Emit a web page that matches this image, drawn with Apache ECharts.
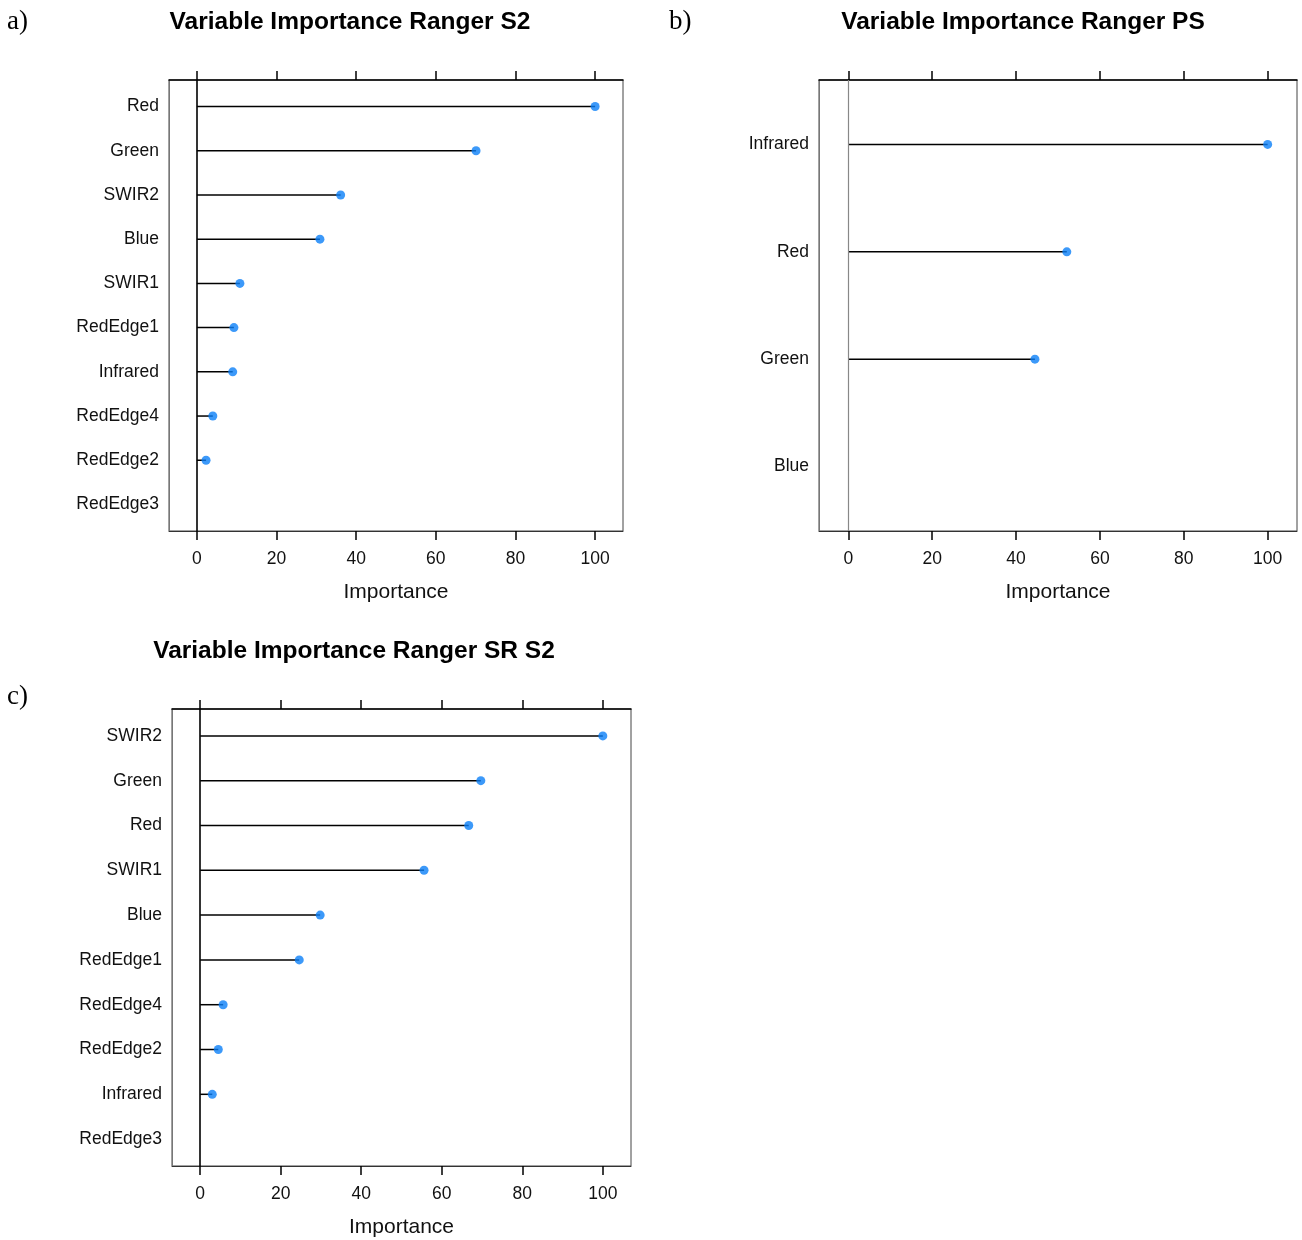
<!DOCTYPE html>
<html>
<head>
<meta charset="utf-8">
<script src="https://cdn.jsdelivr.net/npm/echarts@6/dist/echarts.min.js"></script>
<style>
html,body{margin:0;padding:0;background:#fff;}
#chart{width:1302px;height:1240px;}
</style>
</head>
<body>
<div id="chart"></div>
<script>
const catsA = ['Red','Green','SWIR2','Blue','SWIR1','RedEdge1','Infrared','RedEdge4','RedEdge2','RedEdge3'];
const valsA = [100, 70.1, 36.1, 30.9, 10.8, 9.3, 9.0, 4.0, 2.3, 0];
const catsB = ['Infrared','Red','Green','Blue'];
const valsB = [100, 52.1, 44.5, 0];
const catsC = ['SWIR2','Green','Red','SWIR1','Blue','RedEdge1','RedEdge4','RedEdge2','Infrared','RedEdge3'];
const valsC = [100, 69.7, 66.7, 55.6, 29.8, 24.6, 5.7, 4.5, 3.0, 0];
const xTicks = [0, 20, 40, 60, 80, 100];
const titles = ['Variable Importance Ranger S2', 'Variable Importance Ranger PS', 'Variable Importance Ranger SR S2'];
const panelLetters = ['a)', 'b)', 'c)'];
const axisName = 'Importance';

const FONT = '"Liberation Sans", Arial, Helvetica, sans-serif';
const SERIF = '"Liberation Serif", "Times New Roman", serif';
const DOT = '#0b80f7';

const panels = [
  {cats: catsA, vals: valsA, grid: {left: 169, top: 80, width: 454, height: 451}, zero: '#000', zeroW: 1.6},
  {cats: catsB, vals: valsB, grid: {left: 819, top: 80, width: 478, height: 451}, zero: '#888', zeroW: 1.2},
  {cats: catsC, vals: valsC, grid: {left: 172, top: 709, width: 459, height: 457}, zero: '#000', zeroW: 1.6}
];

const grid = [], xAxis = [], yAxis = [], series = [];
panels.forEach((p, k) => {
  grid.push(Object.assign({show: true, borderColor: '#444', borderWidth: 1, backgroundColor: 'transparent'}, p.grid));
  xAxis.push({
    type: 'value', gridIndex: k, position: 'bottom', min: -7, max: 107,
    splitLine: {show: false},
    axisLine: {show: true, onZero: false, lineStyle: {color: '#333', width: 1}},
    axisTick: {show: true, inside: false, length: 9, customValues: xTicks, lineStyle: {color: '#000', width: 1.5}},
    axisLabel: {show: true, customValues: xTicks, margin: 19, fontSize: 17.5, color: '#111', fontFamily: FONT},
    name: axisName, nameLocation: 'middle', nameGap: 51,
    nameTextStyle: {fontSize: 21, color: '#111', fontFamily: FONT}
  });
  xAxis.push({
    type: 'value', gridIndex: k, position: 'top', min: -7, max: 107,
    splitLine: {show: false},
    axisLine: {show: true, onZero: false, lineStyle: {color: '#000', width: 1.6}},
    axisTick: {show: true, inside: false, length: 9, customValues: xTicks, lineStyle: {color: '#000', width: 1.5}},
    axisLabel: {show: false}
  });
  const n = p.cats.length;
  const idx = p.cats.map((c, i) => i + 1);
  yAxis.push({
    type: 'value', gridIndex: k, inverse: true, min: 0.4, max: n + 0.6,
    splitLine: {show: false},
    axisLine: {show: true, onZero: false, lineStyle: {color: '#777', width: 1}},
    axisTick: {show: false},
    axisLabel: {
      show: true, customValues: idx, margin: 10, fontSize: 17.5, color: '#111', fontFamily: FONT,
      padding: [6, 0, 0, 0],
      formatter: v => p.cats[Math.round(v) - 1] || ''
    }
  });
  const data = p.vals.map((v, i) => [v, i + 1]);
  series.push({
    type: 'custom', xAxisIndex: 2 * k, yAxisIndex: k, data: data, silent: true, z: 3,
    encode: {x: 0, y: 1},
    renderItem: (params, api) => {
      const y = api.value(1);
      const p0 = api.coord([0, y]);
      const p1 = api.coord([api.value(0), y]);
      return {type: 'line', shape: {x1: p0[0], y1: p0[1], x2: p1[0], y2: p1[1]},
        style: {stroke: '#000', lineWidth: 1.5}};
    }
  });
  series.push({
    type: 'scatter', xAxisIndex: 2 * k, yAxisIndex: k, data: data, silent: true, z: 5,
    symbol: 'circle', symbolSize: d => d[0] > 0 ? 9 : 0,
    itemStyle: {color: DOT},
    markLine: {
      silent: true, symbol: 'none', label: {show: false},
      lineStyle: {color: p.zero, width: p.zeroW, type: 'solid'},
      data: [{xAxis: 0}], animation: false
    }
  });
});

const graphic = [
  {type: 'text', x: 350, y: 10, style: {text: titles[0], font: 'bold 24.5px ' + FONT, fill: '#000', align: 'center'}},
  {type: 'text', x: 1023, y: 10, style: {text: titles[1], font: 'bold 24.5px ' + FONT, fill: '#000', align: 'center'}},
  {type: 'text', x: 354, y: 639, style: {text: titles[2], font: 'bold 24.5px ' + FONT, fill: '#000', align: 'center'}},
  {type: 'text', x: 7, y: 8, style: {text: panelLetters[0], font: '27px ' + SERIF, fill: '#000'}},
  {type: 'text', x: 669, y: 8, style: {text: panelLetters[1], font: '27px ' + SERIF, fill: '#000'}},
  {type: 'text', x: 7, y: 683, style: {text: panelLetters[2], font: '27px ' + SERIF, fill: '#000'}}
];

const chart = echarts.init(document.getElementById('chart'), null, {renderer: 'canvas'});
chart.setOption({
  animation: false,
  backgroundColor: '#fff',
  grid: grid, xAxis: xAxis, yAxis: yAxis, series: series, graphic: graphic
});
</script>
</body>
</html>
